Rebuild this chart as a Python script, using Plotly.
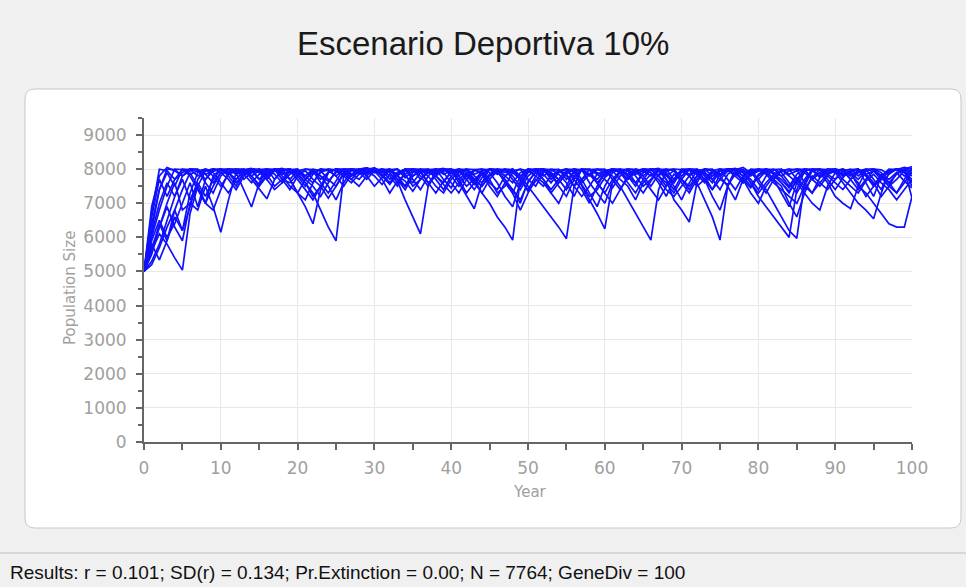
import plotly.graph_objects as go

years = list(range(0, 101))

run_a = [5000, 5600, 6100, 5800, 5400, 5040, 6700, 7500, 7950, 8000, 7980,
         8010, 7900, 7990, 8020, 7700, 7950, 8000, 7960, 8010, 7850,
         7600, 7300, 6800, 6300, 5900, 7800, 8000, 7990, 8030, 7950,
         8000, 7800, 7500, 7950, 8010, 7980, 7900, 8000, 7700, 7450,
         7900, 8000, 7990, 7850, 8000, 7960, 7600, 7300, 7800, 8000,
         7980, 8010, 7900, 7700, 7950, 8000, 7500, 7100, 6700, 6250,
         7600, 7950, 8000, 7980, 7800, 7990, 8020, 7900, 7600, 7950,
         8000, 7970, 7800, 7400, 7850, 8000, 8010, 7900, 7980, 7700,
         7950, 8000, 7800, 7500, 7850, 8000, 7990, 7750, 7900, 8000,
         7960, 7800, 7950, 8000, 7700, 7400, 7900, 8000, 7980, 7900]

run_b = [5000, 5800, 5340, 5900, 6600, 6200, 7300, 7900, 8000, 7950, 8010,
         7800, 7500, 7900, 8000, 7990, 7850, 8000, 7700, 7400, 7800,
         8000, 7960, 7700, 7900, 8010, 7990, 7800, 8000, 8040, 7950,
         7700, 7300, 7650, 7100, 6600, 6100, 7500, 7950, 8000, 7980,
         7600, 7200, 6840, 7600, 8000, 7990, 7800, 7950, 8000, 7700,
         7500, 7900, 8000, 7980, 7850, 8010, 7950, 7800, 7990, 8000,
         7700, 7400, 7800, 8000, 7960, 7900, 7600, 7200, 7700, 8000,
         7990, 7850, 8000, 7800, 7950, 8010, 7980, 7600, 7850, 8000,
         7950, 7700, 7300, 6900, 7600, 8000, 7990, 7800, 7950, 8010,
         7800, 7900, 8000, 7600, 7200, 7800, 8000, 7990, 8050, 8000]

run_c = [5000, 6700, 8000, 7950, 7700, 7900, 8010, 7980, 7600, 7300, 7800,
         8000, 7990, 7850, 8000, 7950, 7700, 7990, 8020, 7900, 7980,
         7800, 7600, 7900, 8000, 7950, 8000, 7980, 7850, 7990, 8000,
         7950, 8010, 7800, 7500, 7800, 7990, 8000, 7900, 7950, 8000,
         7800, 7980, 7700, 7300, 7000, 6600, 6300, 5920, 7700, 8000,
         7990, 7800, 7950, 8000, 7700, 7900, 8000, 7980, 7600, 7850,
         8000, 7990, 7800, 7500, 7900, 8010, 7950, 7700, 7100, 6800,
         6450, 7600, 8000, 7990, 7850, 8000, 7960, 7800, 7950, 8010,
         7900, 7700, 7950, 8000, 7980, 7600, 7300, 7750, 8000, 7990,
         7850, 7950, 8000, 7800, 7500, 7700, 7950, 8000, 7900, 7700]

run_d = [5000, 6200, 7400, 8000, 7990, 7800, 7950, 8000, 7700, 7950, 8010,
         7900, 7980, 8000, 7800, 7500, 7800, 8000, 7990, 7700, 7300,
         7100, 7600, 7950, 8000, 7980, 7850, 8010, 7950, 7900, 8000,
         7800, 7550, 7850, 8000, 7990, 7900, 7600, 7800, 7990, 8000,
         7950, 7700, 7400, 7750, 8000, 7980, 7900, 8010, 7800, 7500,
         7200, 6900, 6600, 6300, 5960, 7500, 8000, 7990, 7850, 7950,
         8000, 7900, 7700, 7950, 8010, 7980, 7800, 7990, 8000, 7700,
         7400, 7800, 8000, 7950, 7800, 7990, 8020, 7900, 7700, 7400,
         7800, 7990, 8000, 7850, 7950, 8000, 7700, 7900, 7600, 7200,
         7000, 6840, 7500, 7950, 8000, 7980, 7850, 8000, 7950, 7800]

run_e = [5000, 5500, 6300, 7000, 7600, 6800, 7000, 6800, 7500, 6900, 6150,
         7100, 7900, 7400, 6890, 7600, 8000, 7990, 7850, 7950, 8000,
         7700, 7900, 8010, 7980, 7800, 7500, 7850, 8000, 7990, 7900,
         8000, 7950, 7800, 7990, 8010, 7700, 7950, 8000, 7900, 7600,
         7300, 7700, 7950, 8000, 7980, 7850, 8000, 7800, 7500, 7900,
         8000, 7990, 7700, 7950, 8010, 7900, 7600, 7850, 8000, 7980,
         7800, 7500, 7100, 6700, 6300, 5920, 7400, 7950, 8000, 7990,
         7850, 8000, 7900, 7700, 7950, 8000, 7980, 7800, 7500, 7850,
         8000, 7990, 7900, 7600, 7300, 7700, 7990, 8000, 7850, 7950,
         8010, 7900, 7700, 7950, 8000, 7800, 7600, 7300, 7700, 8050]

run_f = [5000, 6000, 6800, 7500, 8000, 7990, 7850, 7950, 8000, 7800, 7500,
         7850, 8000, 7980, 7900, 7990, 8010, 7700, 7950, 8000, 7900,
         7600, 7200, 7500, 7900, 8000, 7990, 7800, 7950, 8010, 7980,
         7800, 7990, 8000, 7750, 7950, 8000, 7900, 7990, 8020, 7800,
         7500, 7800, 7990, 8000, 7900, 7600, 7200, 6900, 7600, 7950,
         8000, 7980, 7800, 7950, 8000, 7700, 7400, 7000, 7500, 7900,
         8000, 7990, 7850, 8000, 7950, 7800, 7990, 8000, 7700, 7900,
         7990, 7600, 7100, 6600, 5920, 7500, 8000, 7980, 7850, 7950,
         8000, 7900, 7800, 7950, 8010, 7990, 7700, 7900, 8000, 7980,
         7800, 7950, 8000, 7850, 7600, 7200, 7500, 7900, 8000, 7150]

run_g = [5000, 5900, 6500, 6000, 6400, 7000, 7600, 6900, 7700, 8000, 7990,
         7850, 7950, 8000, 7700, 7400, 7130, 7700, 7990, 8000, 7900,
         7800, 8000, 7950, 7700, 7500, 7900, 8000, 7990, 7850, 8010,
         7950, 7700, 7900, 8000, 7980, 7800, 7500, 7850, 8000, 7990,
         7900, 8000, 7700, 7500, 7800, 8000, 7950, 7900, 7700, 7400,
         7800, 8000, 7990, 7850, 7600, 7200, 7700, 7990, 8000, 7900,
         7950, 8000, 7800, 7600, 7900, 8000, 7990, 7850, 7500, 7100,
         7600, 7950, 8000, 7980, 7800, 7950, 8000, 7900, 7600, 7200,
         6900, 6600, 6300, 6000, 7400, 7950, 8000, 7990, 7850, 7700,
         7950, 8000, 7800, 7990, 8010, 7900, 7600, 7850, 8000, 7950]

run_h = [5000, 6400, 7400, 7900, 7500, 8000, 7990, 7800, 7950, 8010, 7900,
         7990, 8000, 7850, 7600, 7850, 8000, 7980, 7900, 7700, 7950,
         8000, 7990, 7800, 7500, 7100, 7600, 7950, 8000, 7980, 8040,
         7900, 7950, 8000, 7800, 7600, 7900, 7990, 8000, 7850, 7950,
         8010, 7900, 7600, 7300, 7700, 7950, 8000, 7990, 7800, 7950,
         8000, 7700, 7300, 7600, 7900, 8000, 7980, 7850, 7600, 7300,
         7700, 7950, 8000, 7990, 7800, 7500, 7850, 8000, 7950, 7800,
         7990, 8000, 7850, 7600, 7950, 8000, 7980, 8050, 7900, 7700,
         7400, 7000, 6600, 6200, 5970, 7600, 8000, 7990, 7850, 8000,
         7950, 7700, 7900, 8000, 7980, 7800, 7950, 8000, 7990, 8080]

run_i = [5000, 5700, 6300, 6900, 6300, 5900, 7000, 7500, 7000, 7800, 8000,
         7990, 7850, 7950, 8000, 7900, 7700, 7950, 8000, 7990, 7800,
         7500, 7850, 8000, 7950, 7800, 7990, 8010, 7900, 7700, 7950,
         8000, 7980, 7850, 8000, 7700, 7400, 7800, 8000, 7990, 7900,
         7950, 8000, 7800, 7600, 7850, 8000, 7990, 7700, 7400, 7800,
         7990, 8000, 7850, 7500, 7200, 7700, 7990, 8000, 7900, 7800,
         8000, 7950, 7700, 7900, 8000, 7990, 7800, 7600, 7300, 7700,
         8000, 7980, 7900, 7700, 7400, 7850, 8000, 7990, 7800, 7950,
         8010, 7900, 7600, 7300, 7700, 8000, 7950, 7800, 7990, 8000,
         7850, 7900, 7500, 7300, 7000, 6700, 6400, 6300, 6300, 7200]

run_j = [5000, 6900, 7800, 8050, 7950, 7800, 8000, 7990, 7850, 7950, 8000,
         7900, 7700, 7950, 8000, 7980, 7800, 7990, 8000, 7700, 7300,
         6900, 6400, 7400, 7900, 8000, 7950, 7800, 7990, 8020, 7900,
         7950, 8000, 7700, 7500, 7900, 8000, 7980, 7850, 7950, 8000,
         7700, 7300, 7600, 7950, 8000, 7990, 7800, 7600, 7900, 8000,
         7950, 7850, 7600, 7900, 8000, 7990, 7700, 7300, 6900, 7500,
         7900, 8000, 7980, 7850, 7950, 8000, 7800, 7500, 7700, 7990,
         8000, 7900, 7700, 7950, 8010, 7980, 7800, 7600, 7900, 8000,
         7990, 7850, 7950, 8000, 7700, 7400, 7750, 8000, 7990, 7900,
         7600, 7300, 7000, 6800, 6545, 7300, 7900, 8000, 7950, 7500]

run_k = [5000, 6100, 7000, 7600, 7200, 7800, 8000, 7990, 7850, 7600, 7900,
         8000, 7980, 7700, 7900, 8010, 7850, 7500, 7700, 7990, 8000,
         7800, 7950, 7600, 7300, 7650, 8000, 7990, 7900, 8020, 8000,
         7850, 7600, 7900, 7990, 7800, 7950, 8000, 7700, 7400, 7800,
         8000, 7990, 7850, 7950, 7700, 7300, 7500, 7900, 8000, 7950,
         7800, 7600, 7300, 7000, 7500, 7950, 8000, 7850, 7700, 7950,
         8010, 7900, 7600, 7300, 7700, 7990, 8000, 7800, 7950, 7600,
         7300, 7700, 7950, 8000, 7800, 7500, 7100, 7700, 8000, 7990,
         7850, 7600, 7400, 7200, 7000, 7500, 7950, 8000, 7700, 7400,
         7750, 7990, 8000, 7850, 7950, 7700, 7950, 8000, 7800, 7900]

run_l = [5000, 5300, 5800, 6500, 7200, 7700, 7100, 7600, 7200, 7700, 8000,
         7900, 7600, 7850, 8000, 7990, 7700, 7400, 7600, 7950, 7700,
         7400, 7100, 7500, 7900, 8000, 7950, 7700, 7500, 7800, 8000,
         7980, 7900, 7600, 7850, 8000, 7990, 7800, 7500, 7300, 7700,
         7950, 7800, 7550, 7850, 8000, 7900, 7700, 7400, 7100, 7600,
         7950, 8000, 7850, 7700, 7400, 7800, 7990, 7600, 7300, 7000,
         7600, 7900, 8000, 7800, 7500, 7700, 7990, 7700, 7400, 7800,
         8000, 7850, 7600, 7800, 7990, 7700, 7400, 7800, 7950, 7600,
         7300, 7700, 7990, 7800, 7600, 7300, 7000, 6800, 7500, 7900,
         8000, 7700, 7400, 7700, 7950, 7800, 7500, 7700, 7950, 7600]

run_m = [5000, 5600, 6400, 5900, 6800, 7400, 7900, 7500, 7000, 6800, 7400,
         7900, 8000, 7990, 7800, 7950, 8000, 7850, 7600, 7850, 7990,
         7700, 7500, 7200, 7600, 7950, 7800, 7600, 7850, 8000, 7990,
         7800, 7950, 8000, 7850, 7500, 7700, 7950, 7800, 7600, 7950,
         7800, 7500, 7700, 7900, 7600, 7400, 7800, 8000, 7700, 7350,
         7650, 7950, 7800, 7600, 7850, 7500, 7200, 7500, 7850, 7700,
         7450, 7800, 7950, 7600, 7300, 7650, 7950, 7800, 7600, 7950,
         7800, 7500, 7700, 7200, 6800, 7500, 7900, 7700, 7450, 7800,
         7950, 7700, 7500, 7000, 6600, 7300, 7800, 7600, 7400, 7700,
         7950, 7850, 7600, 7200, 7500, 7850, 7700, 7900, 7650, 7450]

run_n = [5000, 6600, 7700, 7200, 7700, 8000, 7800, 7400, 7000, 7500, 7900,
         7700, 7400, 7800, 7950, 7700, 7900, 8000, 7800, 7500, 7300,
         7700, 7950, 7800, 7650, 7900, 7990, 7850, 7700, 7950, 7800,
         7550, 7850, 7700, 7400, 7800, 7950, 7600, 7300, 7650, 7900,
         7700, 7900, 7600, 7850, 7500, 7200, 7600, 7400, 7000, 7650,
         7900, 7700, 7400, 7700, 7950, 7800, 7550, 7200, 7400, 7750,
         7950, 7700, 7500, 7100, 7600, 7850, 7700, 7400, 7200, 7500,
         7800, 7950, 7700, 7400, 7700, 7950, 7850, 7700, 7300, 7000,
         7500, 7800, 7600, 7350, 7650, 7900, 7700, 7500, 7800, 7600,
         7400, 7700, 7950, 7800, 7550, 7750, 7500, 7300, 7600, 7900]

run_o = [5000, 5200, 5700, 6300, 6800, 6200, 6900, 7700, 8000, 7900, 7600,
         7300, 7700, 7950, 7800, 7550, 7850, 7990, 7700, 7600, 7850,
         7950, 7700, 7500, 7150, 7500, 7850, 7700, 7950, 7800, 7500,
         7750, 7950, 7800, 7650, 7350, 7700, 7900, 7800, 7550, 7300,
         7600, 7850, 7700, 7500, 7800, 7950, 7700, 7300, 6800, 7300,
         7700, 7500, 7800, 7950, 7800, 7500, 7700, 7850, 7600, 7300,
         7000, 7400, 7750, 7950, 7700, 7400, 7100, 7500, 7850, 7700,
         7500, 7800, 7650, 7900, 7700, 7550, 7850, 7950, 7600, 7300,
         7600, 7850, 7700, 7450, 7750, 7500, 7300, 7600, 7850, 7950,
         7700, 7500, 7300, 7650, 7850, 7600, 7400, 7100, 7400, 7700]

runs = [run_a, run_b, run_c, run_d, run_e, run_f, run_g, run_h,
        run_i, run_j, run_k, run_l, run_m, run_n, run_o]

x_ticks = [0, 10, 20, 30, 40, 50, 60, 70, 80, 90, 100]
y_ticks = [0, 1000, 2000, 3000, 4000, 5000, 6000, 7000, 8000, 9000]

title_text = "Escenario Deportiva 10%"
status_text = "Results: r = 0.101; SD(r) = 0.134; Pr.Extinction = 0.00; N = 7764; GeneDiv = 100"

W, H = 966, 587
L, R, T, B = 144, 54, 118, 145
PW, PH = W - L - R, H - T - B


def px(xp):
    return (xp - L) / PW


def py(yp):
    return (H - B - yp) / PH


fig = go.Figure()
for r in runs:
    fig.add_trace(go.Scatter(x=years, y=r, mode="lines",
                             line=dict(color="#1010ff", width=1.7),
                             showlegend=False, hoverinfo="skip"))

# rounded white panel
x0, x1, y0, y1 = px(25), px(961), py(89), py(528)
rx, ry = 10 / PW, 10 / PH
path = (f"M {x0+rx},{y0} L {x1-rx},{y0} Q {x1},{y0} {x1},{y0-ry} "
        f"L {x1},{y1+ry} Q {x1},{y1} {x1-rx},{y1} L {x0+rx},{y1} "
        f"Q {x0},{y1} {x0},{y1+ry} L {x0},{y0-ry} Q {x0},{y0} {x0+rx},{y0} Z")

shapes = [
    dict(type="path", path=path, xref="paper", yref="paper",
         fillcolor="white", line=dict(color="#c8c8c8", width=1), layer="below"),
    dict(type="line", xref="paper", yref="paper", x0=px(0), x1=px(W),
         y0=py(553), y1=py(553), line=dict(color="#c0c0c0", width=1)),
]

annotations = [
    dict(text=title_text, xref="paper", yref="paper", x=px(483), y=py(43),
         xanchor="center", yanchor="middle", showarrow=False,
         font=dict(family="Liberation Sans, Arial", size=33, color="#1a1a1a")),
    dict(text="Population Size", xref="paper", yref="paper", x=px(70), y=py(288),
         xanchor="center", yanchor="middle", textangle=-90, showarrow=False,
         font=dict(family="DejaVu Sans", size=15, color="#a0a0a0")),
    dict(text="Year", xref="paper", yref="paper", x=px(530), y=py(492),
         xanchor="center", yanchor="middle", showarrow=False,
         font=dict(family="DejaVu Sans", size=15, color="#a0a0a0")),
    dict(text=status_text, xref="paper", yref="paper", x=px(8), y=py(572),
         xanchor="left", yanchor="middle", showarrow=False,
         font=dict(family="Liberation Sans, Arial", size=19, color="#111111")),
]

fig.update_layout(
    width=W, height=H,
    margin=dict(l=L, r=R, t=T, b=B),
    paper_bgcolor="#f0f0f0",
    plot_bgcolor="rgba(0,0,0,0)",
    shapes=shapes,
    annotations=annotations,
    showlegend=False,
)

fig.update_xaxes(range=[0, 100], tickvals=x_ticks, ticktext=[str(v) for v in x_ticks],
                 showline=True, linecolor="#666666", linewidth=2,
                 ticks="outside", ticklen=6, tickcolor="#666666", tickwidth=1.5,
                 minor=dict(dtick=5, ticks="outside", ticklen=6, tickcolor="#666666", showgrid=False),
                 showgrid=True, gridcolor="#e8e8e8", gridwidth=1, zeroline=False,
                 ticklabelstandoff=4,
                 tickfont=dict(family="DejaVu Sans", size=17, color="#a0a0a0"))
fig.update_yaxes(range=[0, 9500], tickvals=y_ticks, ticktext=[str(v) for v in y_ticks],
                 showline=True, linecolor="#666666", linewidth=2,
                 ticks="outside", ticklen=6, tickcolor="#666666", tickwidth=1.5,
                 minor=dict(dtick=500, ticks="outside", ticklen=4, tickcolor="#666666", showgrid=False),
                 showgrid=True, gridcolor="#e8e8e8", gridwidth=1, zeroline=False,
                 ticklabelstandoff=6,
                 tickfont=dict(family="DejaVu Sans", size=17, color="#a0a0a0"))

fig.write_html("out.html", config={"displayModeBar": False},
               post_script="document.body.style.margin='0';document.body.style.background='#f0f0f0';")
